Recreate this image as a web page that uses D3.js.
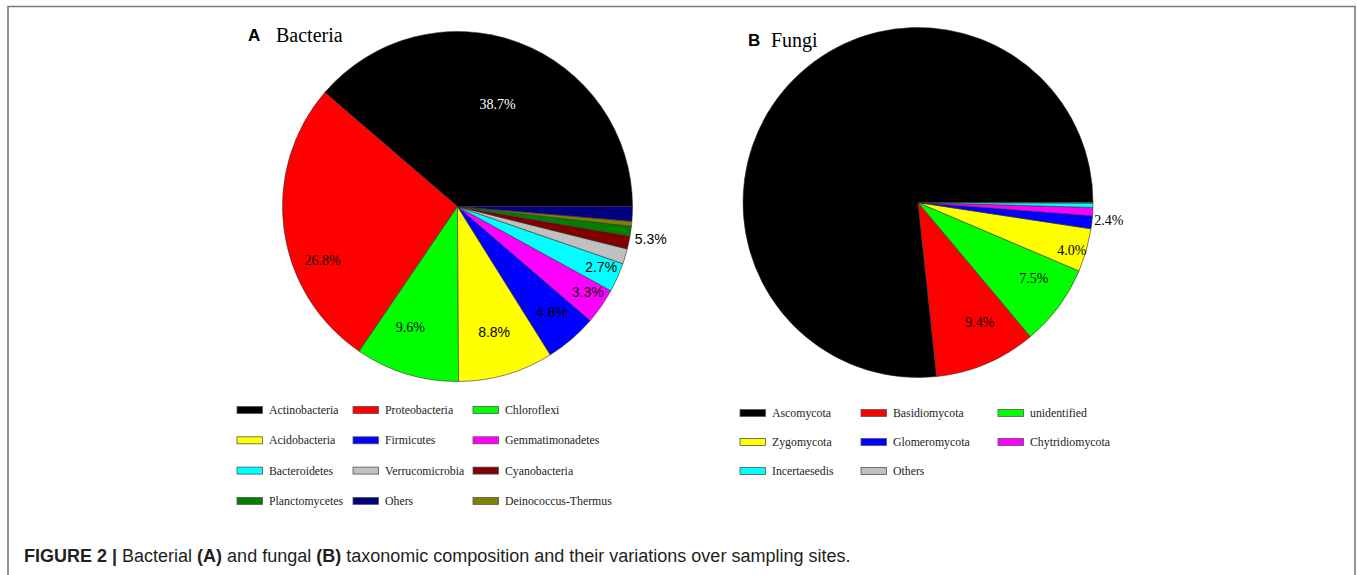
<!DOCTYPE html>
<html><head><meta charset="utf-8">
<script src="https://cdn.jsdelivr.net/npm/d3@7"></script>
<style>html,body{margin:0;padding:0;background:#fff;}svg{display:block;}</style>
</head><body>
<svg id="chart" width="1357" height="575"></svg>
<script>
// ---------- DATA ----------
const bacteriaNames = ["Actinobacteria","Proteobacteria","Chloroflexi","Acidobacteria","Firmicutes","Gemmatimonadetes","Bacteroidetes","Verrucomicrobia","Cyanobacteria","Planctomycetes","Deinococcus-Thermus","Others"];
const bacteriaValues = [38.7,26.8,9.6,8.8,4.8,3.3,2.7,1.4,1.2,0.9,0.45,1.35];
const bacteriaColors = ["#000000","#ff0000","#00ff00","#ffff00","#0000ff","#ff00ff","#00ffff","#c0c0c0","#800000","#008000","#808000","#000080"];
const bacteriaLegendNames = ["Actinobacteria","Proteobacteria","Chloroflexi","Acidobacteria","Firmicutes","Gemmatimonadetes","Bacteroidetes","Verrucomicrobia","Cyanobacteria","Planctomycetes","Ohers","Deinococcus-Thermus"];
const bacteriaLegendColors = ["#000000","#ff0000","#00ff00","#ffff00","#0000ff","#ff00ff","#00ffff","#c0c0c0","#800000","#008000","#000080","#808000"];
const bacteriaLabelText = ["38.7%","26.8%","9.6%","8.8%","4.8%","3.3%","2.7%","5.3%"];
const bacteriaLabelSlices = [[0],[1],[2],[3],[4],[5],[6],[7,8,9,10,11]];

const fungiNames = ["Ascomycota","Basidiomycota","unidentified","Zygomycota","Glomeromycota","Chytridiomycota","Incertaesedis","Others"];
const fungiValues = [76.7,9.4,7.5,4.0,1.2,0.75,0.4,0.05];
const fungiColors = ["#000000","#ff0000","#00ff00","#ffff00","#0000ff","#ff00ff","#00ffff","#c0c0c0"];
const fungiLegendNames = ["Ascomycota","Basidiomycota","unidentified","Zygomycota","Glomeromycota","Chytridiomycota","Incertaesedis","Others"];
const fungiLegendColors = ["#000000","#ff0000","#00ff00","#ffff00","#0000ff","#ff00ff","#00ffff","#c0c0c0"];
const fungiLabelText = ["76.7%","9.4%","7.5%","4.0%","2.4%"];
const fungiLabelSlices = [[0],[1],[2],[3],[4,5,6,7]];

// ---------- LAYOUT / STYLE ----------
const SERIF = "'Liberation Serif','Times New Roman',serif";
const SANS = "'Liberation Sans',Arial,sans-serif";
const svg = d3.select("#chart");

// frame
const fp = d3.path(); fp.moveTo(8,575); fp.lineTo(8,6.5); fp.lineTo(1355,6.5); fp.lineTo(1355,575);
svg.append("path").attr("d", fp.toString())
  .attr("fill","none").attr("stroke","#7a7a7a").attr("stroke-width",1.6);

const panels = [
  {cx:457.5, cy:206.5, r:175, values:bacteriaValues, colors:bacteriaColors,
   letter:"A", title:"Bacteria", lx:248, ly:41, tx:276, ty:42,
   labels:bacteriaLabelText, groups:bacteriaLabelSlices,
   place:[{rf:0.63,off:-1,font:SERIF,fill:"#fff"},{rf:0.83,off:14.3,font:SERIF,fill:"#000"},{rf:0.74,off:-4.5,font:SERIF,fill:"#000"},
          {rf:0.75,off:0,font:SANS,fill:"#000"},{rf:0.81,off:1,font:SANS,fill:"#000"},{rf:0.89,off:1.5,font:SANS,fill:"#000"},
          {rf:0.89,off:1.2,font:SANS,fill:"#000"},{rf:1.12,off:0,font:SANS,fill:"#000"}],
   legNames:bacteriaLegendNames, legColors:bacteriaLegendColors,
   legX:[237,353,473], legY0:410, legDY:30.3},
  {cx:918, cy:202.5, r:175, values:fungiValues, colors:fungiColors,
   letter:"B", title:"Fungi", lx:748, ly:46, tx:771, ty:47,
   labels:fungiLabelText, groups:fungiLabelSlices,
   place:[{rf:0.30,off:4.3,font:SERIF,fill:"#000"},{rf:0.77,off:4.3,font:SERIF,fill:"#000"},{rf:0.79,off:3.4,font:SERIF,fill:"#000"},
          {rf:0.92,off:-1.4,font:SERIF,fill:"#000"},{rf:1.095,off:-0.9,font:SERIF,fill:"#000"}],
   legNames:fungiLegendNames, legColors:fungiLegendColors,
   legX:[740,861,998], legY0:413, legDY:29}
];

panels.forEach(P => {
  const g = svg.append("g").attr("transform",`translate(${P.cx},${P.cy})`);
  const pie = d3.pie().sort(null).value(d=>d)
    .startAngle(Math.PI/2).endAngle(Math.PI/2 - 2*Math.PI);
  const arcs = pie(P.values);
  const arc = d3.arc().innerRadius(0).outerRadius(P.r);
  g.selectAll("path.slice").data(arcs).join("path").attr("class","slice")
    .attr("d",arc).attr("fill",(d,i)=>P.colors[i])
    .attr("stroke","#333").attr("stroke-width",0.6).attr("stroke-linejoin","round");

  // labels
  P.labels.forEach((txt,k) => {
    const idx = P.groups[k];
    const a0 = arcs[idx[0]].startAngle, a1 = arcs[idx[idx.length-1]].endAngle;
    const pl = P.place[k];
    const a = (a0+a1)/2 - pl.off*Math.PI/180;
    const rr = pl.rf*P.r;
    g.append("text").attr("x", rr*Math.sin(a)).attr("y", -rr*Math.cos(a))
      .attr("text-anchor","middle").attr("dy","0.35em")
      .attr("font-family",pl.font).attr("font-size",14).attr("fill",pl.fill)
      .text(txt);
  });

  // title
  svg.append("text").attr("x",P.lx).attr("y",P.ly).attr("font-family",SANS).attr("font-weight","bold")
    .attr("font-size",17).text(P.letter);
  svg.append("text").attr("x",P.tx).attr("y",P.ty).attr("font-family",SERIF)
    .attr("font-size",20).text(P.title);

  // legend
  const lg = svg.append("g");
  P.legNames.forEach((nm,i) => {
    const col = i%3, row = Math.floor(i/3);
    const x = P.legX[col], y = P.legY0 + row*P.legDY;
    lg.append("rect").attr("x",x).attr("y",y-3.5).attr("width",25.5).attr("height",7)
      .attr("fill",P.legColors[i]).attr("stroke","#555").attr("stroke-width",0.8);
    lg.append("text").attr("x",x+32).attr("y",y).attr("dy","0.35em")
      .attr("font-family",SERIF).attr("font-size",11.8).attr("fill","#222").text(nm);
  });
});

// caption
const cap = svg.append("text").attr("x",24).attr("y",562).attr("font-family",SANS).attr("font-size",18).attr("fill","#231f20");
cap.append("tspan").attr("font-weight","bold").text("FIGURE 2 | ");
cap.append("tspan").text("Bacterial ");
cap.append("tspan").attr("font-weight","bold").text("(A)");
cap.append("tspan").text(" and fungal ");
cap.append("tspan").attr("font-weight","bold").text("(B)");
cap.append("tspan").text(" taxonomic composition and their variations over sampling sites.");
</script>
</body></html>
